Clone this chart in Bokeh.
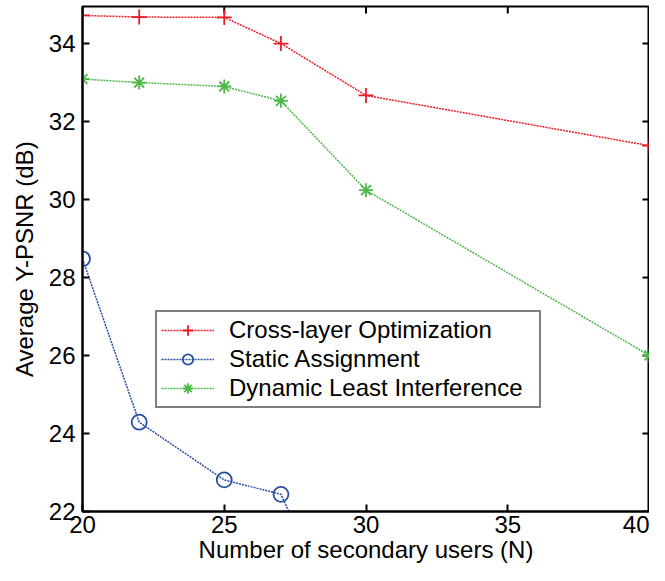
import math
from bokeh.plotting import figure
from bokeh.models import FixedTicker, Range1d, Legend
from bokeh.embed import file_html
from bokeh.resources import INLINE

x_cross = [20, 22, 25, 27, 30, 40]
y_cross = [34.72, 34.68, 34.67, 34.0, 32.67, 31.38]

x_static = [20, 22, 25, 27, 30]
y_static = [28.48, 24.29, 22.81, 22.44, 17.7]

x_dyn = [20, 22, 25, 27, 30, 40]
y_dyn = [33.09, 33.0, 32.9, 32.53, 30.24, 26.0]

x_ticks = [20, 25, 30, 35, 40]
y_ticks = [22, 24, 26, 28, 30, 32, 34]

X_MIN, X_MAX = 20, 40
Y_MIN, Y_MAX = 22, 34.95

FONT = "Liberation Sans"
FS = "24px"

p = figure(width=649, height=565, output_backend="svg", toolbar_location=None,
           x_range=Range1d(X_MIN, X_MAX), y_range=Range1d(Y_MIN, Y_MAX),
           min_border_left=82, min_border_right=0, min_border_top=6, min_border_bottom=50)
p.background_fill_color = "white"
p.border_fill_color = "white"
p.outline_line_color = "black"
p.outline_line_width = 2
p.xgrid.visible = False
p.ygrid.visible = False

for ax in [p.xaxis[0], p.yaxis[0]]:
    ax.major_tick_in = 7
    ax.major_tick_out = 0
    ax.minor_tick_line_color = None
    ax.axis_line_width = 2
    ax.major_tick_line_width = 2
    ax.major_label_text_font = FONT
    ax.major_label_text_font_size = FS
    ax.major_label_text_color = "black"
    ax.axis_label_text_font = FONT
    ax.axis_label_text_font_size = FS
    ax.axis_label_text_font_style = "normal"
    ax.axis_label_text_color = "black"

p.xaxis[0].ticker = FixedTicker(ticks=x_ticks)
p.yaxis[0].ticker = FixedTicker(ticks=y_ticks)
p.xaxis[0].axis_label = "Number of secondary users (N)"
p.yaxis[0].axis_label = "Average Y-PSNR (dB)"
p.xaxis[0].major_label_standoff = 4
p.xaxis[0].axis_label_standoff = 0
p.yaxis[0].major_label_standoff = 7
p.yaxis[0].axis_label_standoff = 8

# inward ticks on the top and right edges of the box
p.ray(x=x_ticks, y=[Y_MAX] * len(x_ticks), length=7, length_units="screen",
      angle=-math.pi / 2, line_color="black", line_width=2)
p.ray(x=[X_MAX] * len(y_ticks), y=y_ticks, length=7, length_units="screen",
      angle=math.pi, line_color="black", line_width=2)

RED = "#ee1c25"
BLUE = "#2a4ea6"
GREEN = "#4db848"

l1 = p.line(x_cross, y_cross, line_color=RED, line_width=1.5, line_dash="2 1")
m1 = p.scatter(x_cross, y_cross, marker="cross", size=15, line_color=RED, line_width=1.8)
l2 = p.line(x_static, y_static, line_color=BLUE, line_width=1.5, line_dash="2 1")
m2 = p.scatter(x_static, y_static, marker="circle", size=15, line_color=BLUE,
               fill_color=None, line_width=1.8)
l3 = p.line(x_dyn, y_dyn, line_color=GREEN, line_width=1.5, line_dash="2 1")
m3 = p.scatter(x_dyn, y_dyn, marker="asterisk", size=14, line_color=GREEN, line_width=1.8)

legend = Legend(items=[("Cross-layer Optimization", [l1, m1]),
                       ("Static Assignment", [l2, m2]),
                       ("Dynamic Least Interference", [l3, m3])],
                location=(73, 103))
legend.label_text_font = FONT
legend.label_text_font_size = FS
legend.label_text_color = "black"
legend.border_line_color = "black"
legend.border_line_width = 2
legend.padding = 4
legend.spacing = 1
legend.glyph_width = 53
legend.glyph_height = 26
legend.label_height = 26
legend.label_width = 306
legend.label_standoff = 15
legend.margin = 0
legend.background_fill_alpha = 1
p.add_layout(legend, "center")

open("out.html", "w").write(file_html(p, INLINE))
